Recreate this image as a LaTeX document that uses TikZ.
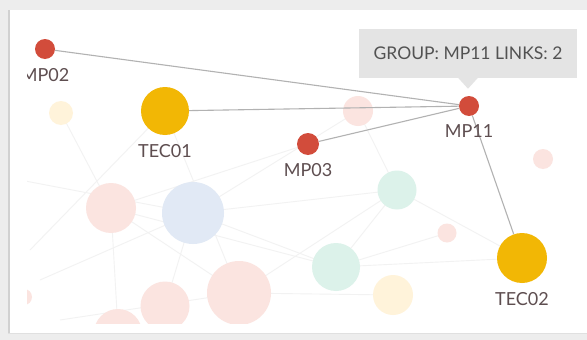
\documentclass[tikz,border=0pt]{standalone}
\usepackage{fontspec}
\setmainfont{Lato}
\usepackage{xcolor}
\usetikzlibrary{positioning, shapes.geometric, backgrounds, calc}

\definecolor{mpred}{HTML}{D24C3B}
\definecolor{tecyel}{HTML}{F2B705}
\definecolor{fpink}{HTML}{FBE4E0}
\definecolor{fblue}{HTML}{E1E9F5}
\definecolor{fgreen}{HTML}{DCF2EA}
\definecolor{fyel}{HTML}{FFF3DA}
\definecolor{lbltxt}{HTML}{5E4E50}
\definecolor{tipfill}{HTML}{E4E4E4}

\pgfdeclarelayer{framel}
\pgfdeclarelayer{ghostl}
\pgfdeclarelayer{edgel}
\pgfsetlayers{framel,ghostl,edgel,main}

\begin{document}
\begin{tikzpicture}[
    x=1pt, y=-1pt,
    mp/.style={circle, fill=mpred, minimum size=20pt, inner sep=0pt},
    tec/.style={circle, fill=tecyel, minimum size=48pt, inner sep=0pt},
    ghost/.style={circle, inner sep=0pt},
    lbl/.style={text=lbltxt, font=\fontsize{18}{18}\selectfont, inner sep=0pt},
    link/.style={draw=black!30, line width=1.1pt},
    faint/.style={draw=black!5, line width=0.9pt}
]
\useasboundingbox (0,0) rectangle (587,340);

% screen frame
\begin{pgfonlayer}{framel}
\fill[black!7] (0,0) rectangle (587,340);
\fill[white] (8,10) rectangle (587,333);
\draw[black!18, line width=2pt] (9,10) -- (9,333);
\draw[black!12, line width=1pt] (8,333) -- (587,333);
\end{pgfonlayer}

\begin{scope}
\clip (27,12) rectangle (587,323);

% faded part of the graph
\begin{pgfonlayer}{ghostl}
\clip (27,12) rectangle (587,323);
\draw[faint] (20,180) -- (193,213) -- (397,190) -- (522,258);
\draw[faint] (61,113) -- (111,208) -- (239,293) -- (393,295);
\draw[faint] (40,280) -- (193,213) -- (336,267) -- (447,233);
\draw[faint] (30,250) -- (165,111) -- (239,293);
\draw[faint] (111,208) -- (336,267) -- (522,258);
\draw[faint] (358,111) -- (397,190) -- (336,267);
\draw[faint] (165,306) -- (193,213) -- (358,111);
\draw[faint] (60,320) -- (239,293) -- (397,190);
\draw[faint] (118,330) -- (111,208) -- (308,144);

\node[ghost, fill=fyel, minimum size=24pt] (g1) at (61,113) {};
\node[ghost, fill=fpink, minimum size=30pt] (g2) at (358,111) {};
\node[ghost, fill=fpink, minimum size=20pt] (g3) at (543,159) {};
\node[ghost, fill=fpink, minimum size=50pt] (g4) at (111,208) {};
\node[ghost, fill=fblue, minimum size=62pt] (g5) at (193,213) {};
\node[ghost, fill=fgreen, minimum size=39pt] (g6) at (397,190) {};
\node[ghost, fill=fpink, minimum size=19pt] (g7) at (447,233) {};
\node[ghost, fill=fgreen, minimum size=48pt] (g8) at (336,267) {};
\node[ghost, fill=fyel, minimum size=40pt] (g9) at (393,295) {};
\node[ghost, fill=fpink, minimum size=64pt] (g10) at (239,293) {};
\node[ghost, fill=fpink, minimum size=49pt] (g11) at (165,306) {};
\node[ghost, fill=fpink, minimum size=48pt] (g12) at (118,333) {};
\node[ghost, fill=fpink, minimum size=16pt] (g13) at (24,297) {};
\end{pgfonlayer}

% highlighted nodes
\node[mp] (mp02) at (45,49) {};
\node[tec] (tec01) at (165,111) {};
\node[mp, minimum size=22pt] (mp03) at (308,144) {};
\node[mp] (mp11) at (469,106) {};
\node[tec, minimum size=50pt] (tec02) at (522,258) {};

\begin{pgfonlayer}{edgel}
\draw[link] (mp02) -- (mp11);
\draw[link] (tec01) -- (mp11);
\draw[link] (mp03) -- (mp11);
\draw[link] (mp11) -- (tec02);
\end{pgfonlayer}

\node[lbl, below=9pt of mp02] (mp02l) {MP02};
\node[lbl, below=9pt of tec01] (tec01l) {TEC01};
\node[lbl, below=8pt of mp03] (mp03l) {MP03};
\node[lbl, below=8pt of mp11] (mp11l) {MP11};
\node[lbl, below=9pt of tec02] (tec02l) {TEC02};
\end{scope}

% tooltip
\node[fill=tipfill, minimum width=218pt, minimum height=49pt, inner sep=0pt,
      text=black!68, font=\fontsize{17.5}{17.5}\selectfont] (tip) at (468,53) {GROUP: MP11 LINKS: 2};
\fill[tipfill] ($(tip.south)+(-10,0)$) -- ($(tip.south)+(0,11)$) -- ($(tip.south)+(10,0)$) -- cycle;

\end{tikzpicture}
\end{document}
